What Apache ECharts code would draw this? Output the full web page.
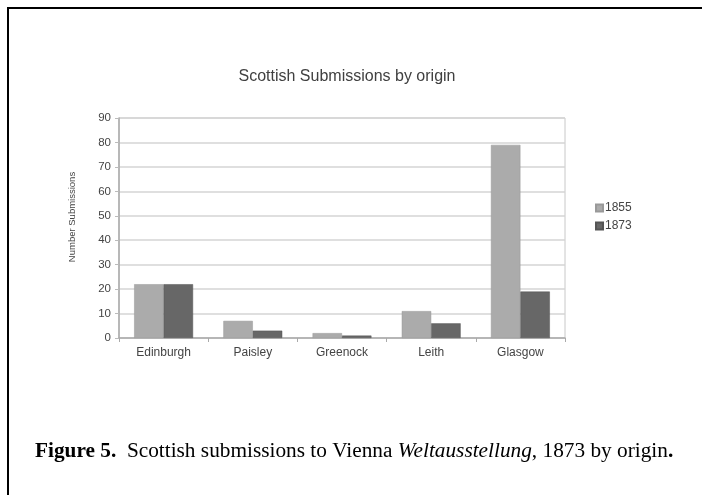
<!DOCTYPE html>
<html><head><meta charset="utf-8">
<script src="https://cdn.jsdelivr.net/npm/echarts@6/dist/echarts.min.js"></script>
<style>html,body{margin:0;padding:0;background:#fff}#c{width:702px;height:495px}</style>
</head><body><div id="c"></div>
<script>
const categories = ['Edinburgh', 'Paisley', 'Greenock', 'Leith', 'Glasgow'];
const seriesNames = ['1855', '1873'];
const values1855 = [22, 7, 2, 11, 79];
const values1873 = [22, 3, 1, 6, 19];
const yTicks = { min: 0, max: 90, interval: 10 };

const chart = echarts.init(document.getElementById('c'), null, { renderer: 'canvas' });
const sans = 'Liberation Sans, Arial, sans-serif';
const serif = 'Liberation Serif, Times New Roman, serif';
chart.setOption({
  animation: false,
  backgroundColor: '#fff',
  title: {
    text: 'Scottish Submissions by origin',
    left: 342, top: 64, textAlign: 'center',
    textStyle: { fontFamily: sans, fontSize: 16, fontWeight: 'normal', color: '#404040' }
  },
  legend: {
    orient: 'vertical', left: 590, top: 197,
    itemWidth: 7, itemHeight: 7, itemGap: 6,
    icon: 'rect',
    textStyle: { fontFamily: sans, fontSize: 12, color: '#444', padding: [0, 0, 0, -3] },
    data: seriesNames
  },
  grid: {
    left: 119, right: 137, top: 118, bottom: 157,
    show: true, borderColor: '#c8c8c8', borderWidth: 1
  },
  xAxis: {
    type: 'category', data: categories,
    axisLine: { lineStyle: { color: '#aaa', width: 1.5 } },
    axisTick: { show: true, length: 4, lineStyle: { color: '#aaa' } },
    axisLabel: { fontFamily: sans, fontSize: 12, color: '#444', margin: 9 }
  },
  yAxis: {
    type: 'value', min: yTicks.min, max: yTicks.max, interval: yTicks.interval,
    axisLine: { show: true, lineStyle: { color: '#aaa', width: 1.5 } },
    axisTick: { show: true, length: 4, lineStyle: { color: '#bbb' } },
    axisLabel: { fontFamily: sans, fontSize: 11.5, color: '#444', margin: 8 },
    splitLine: { lineStyle: { color: '#d4d4d4', width: 1.5 } }
  },
  series: [
    { name: seriesNames[0], type: 'bar', data: values1855, barGap: '0%', barCategoryGap: '34%',
      itemStyle: { color: '#ababab', borderColor: '#999', borderWidth: 0.5 } },
    { name: seriesNames[1], type: 'bar', data: values1873, barGap: '0%', barCategoryGap: '34%',
      itemStyle: { color: '#676767', borderColor: '#555', borderWidth: 0.5 } }
  ],
  graphic: [
    { type: 'rect', shape: { x: 8, y: 8, width: 900, height: 700 },
      style: { fill: 'none', stroke: '#000', lineWidth: 2 }, silent: true },
    { type: 'text', x: 72, y: 217, rotation: Math.PI / 2,
      style: { text: 'Number Submissions', font: '9.5px Liberation Sans, Arial, sans-serif',
        fill: '#444', textAlign: 'center', textVerticalAlign: 'middle' } },
    { type: 'text', left: 35, top: 441,
      style: {
        rich: {
          b: { fontFamily: serif, fontSize: 21.3, fontWeight: 'bold', fill: '#000' },
          n: { fontFamily: serif, fontSize: 21.3, fill: '#000' },
          i: { fontFamily: serif, fontSize: 21.3, fontStyle: 'italic', fill: '#000' }
        },
        text: '{b|Figure 5.}{n|  Scottish submissions to Vienna }{i|Weltausstellung}{n|, 1873 by origin}{b|.}'
      } }
  ]
});
</script></body></html>
